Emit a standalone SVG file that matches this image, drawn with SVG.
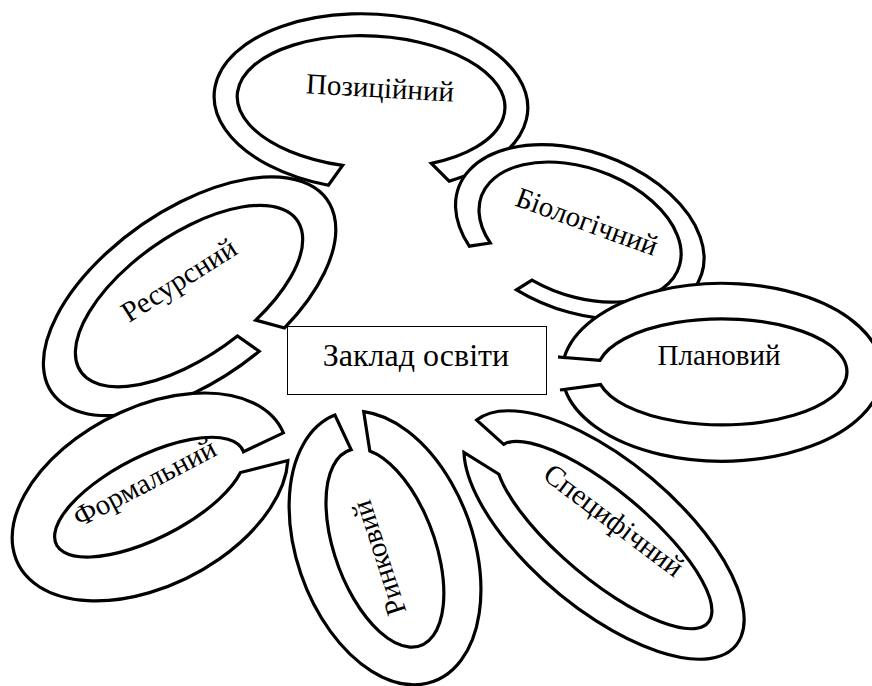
<svg xmlns="http://www.w3.org/2000/svg" width="872" height="686" viewBox="0 0 872 686">
<style>
.ring{fill:#fff;stroke:#000;stroke-width:3.2}
.box{fill:#fff;stroke:#000;stroke-width:1}
</style>
<rect width="872" height="686" fill="#fff"/>
<g id="zaklad">
<rect class="box" x="287.5" y="326.5" width="259" height="68"/>
<text x="416" y="366" font-size="32" text-anchor="middle" font-family="Times New Roman"><tspan font-family="Times New Roman" style="font-family:'Times New Roman'">Заклад освіти</tspan></text>
</g>
<g id="pozytsiinyi">
<path class="ring" transform="translate(371,102) rotate(3)" d="M -25,64.8 L -38.2,85.4 A 157 88 0 1 1 82.2,75 L 63.5,58.1 A 134 66 0 1 0 -25,64.8 Z"/>
<text font-size="29" text-anchor="middle" font-family="Times New Roman" transform="translate(379.5,97.5) rotate(3.3)"><tspan font-family="Times New Roman" style="font-family:'Times New Roman'">Позиційний</tspan></text>
</g>
<g id="resursnyi">
<path class="ring" transform="translate(190,296) rotate(-35)" d="M 40,57.5 L 59.1,80.4 A 168 86 0 1 0 25,85 L 15.9,60 A 132 61 0 1 1 40,57.5 Z"/>
<text font-size="29" text-anchor="middle" font-family="Times New Roman" transform="translate(184,288) rotate(-32.4)"><tspan font-family="Times New Roman" style="font-family:'Times New Roman'">Ресурсний</tspan></text>
</g>
<g id="biolohichnyi">
<path class="ring" transform="translate(580,232) rotate(20)" d="M -80.6,41 L -99.2,51.2 A 129 80 0 1 1 -39.9,76 L -28.7,61.6 A 105 64 0 1 0 -80.6,41 Z"/>
<text font-size="29" text-anchor="middle" font-family="Times New Roman" transform="translate(583.6,230.6) rotate(20)"><tspan font-family="Times New Roman" style="font-family:'Times New Roman'">Біологічний</tspan></text>
</g>
<g id="spetsyfichnyi">
<path class="ring" transform="translate(604,535) rotate(40)" d="M -135.1,-5 L -171.4,-6.2 A 172 74 0 1 1 -160.3,26.8 L -119.6,21 A 136 44 0 1 0 -135.1,-5 Z"/>
<text font-size="29" text-anchor="middle" font-family="Times New Roman" transform="translate(608,528) rotate(37)"><tspan font-family="Times New Roman" style="font-family:'Times New Roman'">Специфічний</tspan></text>
</g>
<g id="planovyi">
<path class="ring" transform="translate(722,372)" d="M -122,-11.7 L -164,-15 L -157.8,-14.4 A 160 89 0 1 1 -157,17.4 L -162,18 L -121.4,12.6 A 125 53 0 1 0 -122,-11.7 Z"/>
<text font-size="29" text-anchor="middle" font-family="Times New Roman" transform="translate(719,365)"><tspan font-family="Times New Roman" style="font-family:'Times New Roman'">Плановий</tspan></text>
</g>
<g id="formalnyi">
<path class="ring" transform="translate(150,497) rotate(-27)" d="M 103.9,2.1 L 148,3.4 A 148 89 0 1 0 139.4,30.1 L 91.7,19.3 A 104.5 41 0 1 1 103.9,2.1 Z"/>
<text font-size="29" text-anchor="middle" font-family="Times New Roman" transform="translate(149,491) rotate(-27.7)"><tspan font-family="Times New Roman" style="font-family:'Times New Roman'">Формальний</tspan></text>
</g>
<g id="rynkovyi">
<path class="ring" transform="translate(385,548) rotate(70)" d="M -96.3,-18.9 L -135.4,-26.6 A 142 88 0 1 1 -142,1.6 L -104,-1.8 A 104 50 0 1 0 -96.3,-18.9 Z"/>
<text font-size="29" text-anchor="middle" font-family="Times New Roman" transform="translate(388,555) rotate(-108)"><tspan font-family="Times New Roman" style="font-family:'Times New Roman'">Ринковий</tspan></text>
</g>
</svg>
